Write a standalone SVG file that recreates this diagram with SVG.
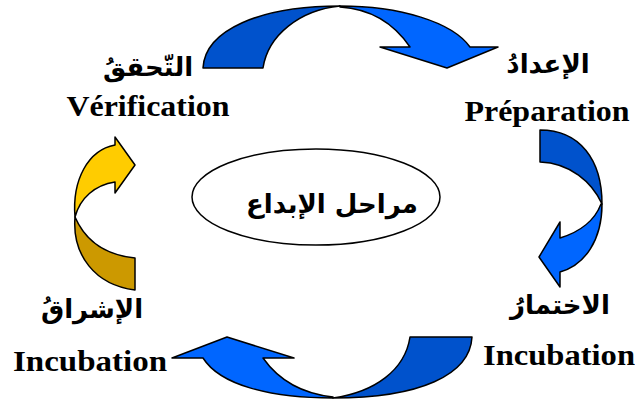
<svg xmlns="http://www.w3.org/2000/svg" width="635" height="403" viewBox="0 0 635 403">
<style>
.ar{stroke:#000;stroke-width:1.5;stroke-linejoin:round}
.dk{fill:#0052CC}
.lt{fill:#0066FF}
.gd{fill:#CC9900}
.yl{fill:#FFCC00}
.fr{font-family:"Liberation Serif","Times New Roman",serif;font-weight:bold;font-size:30px;fill:#000}
.arb{font-family:"DejaVu Sans","Noto Sans",sans-serif;font-weight:bold;font-size:26px;fill:#000}
</style>
<rect width="635" height="403" fill="#fff"/>
<g id="connectors">
<g id="arrow-top">
<path class="ar dk" d="M203,68 C205,30 260,6 340,6 C300,10 268,35 263,68 Z"/>
<path class="ar lt" d="M340,6 C400,6 452,22 470,47 L498,47 L447,68 L380,47 L410,47 C395,25 372,9 340,7 Z"/>
</g>
<g id="arrow-right">
<path class="ar dk" d="M540,130 C580,130 602,160 602,204 C592,182 570,163 540,162 Z"/>
<path class="ar lt" d="M602,204 C602,240 585,265 560,272 L560,287 L539,257 L560,222 L560,238 C580,232 595,220 601,204 Z"/>
</g>
<g id="arrow-bottom">
<path class="ar dk" d="M472,337 C470,375 420,398 333,398 C375,392 405,370 410,337 Z"/>
<path class="ar lt" d="M333,398 C270,398 220,385 203,358 L172,358 L227,337 L294,358 L263,358 C280,382 305,394 333,397 Z"/>
</g>
<g id="arrow-left">
<path class="ar gd" d="M75,217 C72,255 95,285 135,290 L135,258 C105,255 85,240 75,217 Z"/>
<path class="ar yl" d="M75,217 C72,180 88,150 115,145 L115,137 L135,165 L115,193 L115,182 C95,185 80,198 75,217 Z"/>
</g>
</g>
<g id="center">
<ellipse cx="316" cy="197" rx="124" ry="48" fill="#fff" stroke="#000" stroke-width="1.5"/>
<text class="arb" x="332" y="213" text-anchor="middle" direction="rtl" font-size="30">مراحل الإبداع</text>
</g>
<g id="verification">
<text class="arb" x="148" y="76" text-anchor="middle" direction="rtl">التّحققُ</text>
<text class="fr" x="148" y="116" text-anchor="middle" textLength="163" lengthAdjust="spacingAndGlyphs">Vérification</text>
</g>
<g id="preparation">
<text class="arb" x="548" y="73" text-anchor="middle" direction="rtl">الإعدادُ</text>
<text class="fr" x="547" y="121" text-anchor="middle" textLength="165" lengthAdjust="spacingAndGlyphs">Préparation</text>
</g>
<g id="incubation-right">
<text class="arb" x="560" y="314" text-anchor="middle" direction="rtl">الاختمارُ</text>
<text class="fr" x="559" y="365" text-anchor="middle" textLength="152" lengthAdjust="spacingAndGlyphs">Incubation</text>
</g>
<g id="incubation-left">
<text class="arb" x="92" y="318" text-anchor="middle" direction="rtl">الإشراقُ</text>
<text class="fr" x="90" y="371" text-anchor="middle" textLength="154" lengthAdjust="spacingAndGlyphs">Incubation</text>
</g>
</svg>
